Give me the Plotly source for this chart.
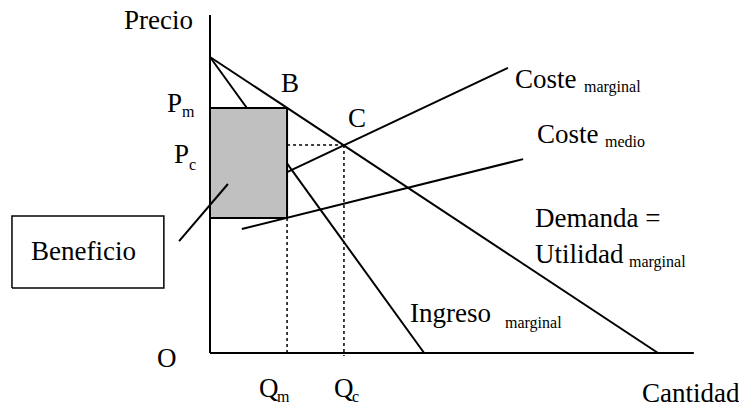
import plotly.graph_objects as go

# monopoly diagram, values in model units (quantity, price)
demand_q = [0.0, 10.0]
demand_p = [10.0, 0.0]

mr_q = [0.0, 4.78]
mr_p = [10.0, 0.0]

mc_q = [1.72, 6.65]
mc_p = [6.11, 9.63]

ac_q = [0.71, 6.99]
ac_p = [4.19, 6.55]

q_m = 1.72
q_c = 2.99
p_m = 8.28
p_c = 7.03
ac_at_qm = 4.56

axis_top = 11.42
axis_right = 10.80

# box with the "Beneficio" label and its pointer
box_q = [-4.42, -1.03]
box_p = [2.20, 4.63]
pointer_q = [-0.69, 0.40]
pointer_p = [3.78, 5.71]

W, H = 739, 408
FONT = "Liberation Serif"
BLACK = "black"

fig = go.Figure()

def seg(x, y, width=2, dash="solid", **kw):
    fig.add_trace(go.Scatter(x=x, y=y, mode="lines",
                             line=dict(color=BLACK, width=width, dash=dash),
                             hoverinfo="skip", showlegend=False, **kw))

# axes
seg([0, 0], [0, axis_top])
seg([0, axis_right], [0, 0])

# curves
seg(mr_q, mr_p)
seg(demand_q, demand_p)

# profit rectangle (covers part of the marginal revenue line)
seg([0, q_m, q_m, 0, 0], [p_m, p_m, ac_at_qm, ac_at_qm, p_m],
    fill="toself", fillcolor="#c0c0c0")

seg(mc_q, mc_p)
seg(ac_q, ac_p)

# dotted guides
seg([q_m, q_m], [ac_at_qm, -0.1], width=1.5, dash="dot")
seg([q_m, q_c], [p_c, p_c], width=1.5, dash="dot")
seg([q_c, q_c], [p_c, -0.1], width=1.5, dash="dot")

# Beneficio box + pointer
seg([box_q[0], box_q[1], box_q[1], box_q[0], box_q[0]],
    [box_p[0], box_p[0], box_p[1], box_p[1], box_p[0]], width=1.5)
seg(pointer_q, pointer_p)

# labels, positioned in pixels of the original drawing
def label(text, x, y, size=27, anchor="left"):
    fig.add_annotation(text=text, x=x / W, y=1 - y / H, xref="paper", yref="paper",
                       xanchor=anchor, yanchor="middle", showarrow=False,
                       font=dict(family=FONT, size=size, color=BLACK))

label("Precio", 122, 20)
label("P", 165, 103)
label("m", 180, 111.6, size=16)
label("P", 172, 154)
label("c", 187, 164.6, size=16)
label("B", 279, 83)
label("C", 346, 118)
label("Coste", 513, 79)
label("marginal", 582, 86.6, size=16)
label("Coste", 535, 134)
label("medio", 603, 141.6, size=16)
label("Demanda =", 533, 218)
label("Utilidad", 533, 254)
label("marginal", 627, 261.6, size=16)
label("Ingreso", 408, 313)
label("marginal", 503, 322.6, size=16)
label("Beneficio", 83, 251, anchor="center")
label("O", 167, 358, anchor="center")
label("Q", 257, 388)
label("m", 275, 396.6, size=16)
label("Q", 332, 388)
label("c", 350, 396.6, size=16)
label("Cantidad", 640, 393)

# 44.8 px per quantity unit, 29.6 px per price unit, origin at pixel (210, 353)
fig.update_xaxes(range=[-210 / 44.8, (W - 210) / 44.8], visible=False)
fig.update_yaxes(range=[-(H - 353) / 29.6, 353 / 29.6], visible=False)

fig.update_layout(
    width=W, height=H,
    margin=dict(l=0, r=0, t=0, b=0),
    plot_bgcolor="white", paper_bgcolor="white",
)

fig.write_html("out.html", config={"displayModeBar": False},
               post_script="document.body.style.margin='0';")
